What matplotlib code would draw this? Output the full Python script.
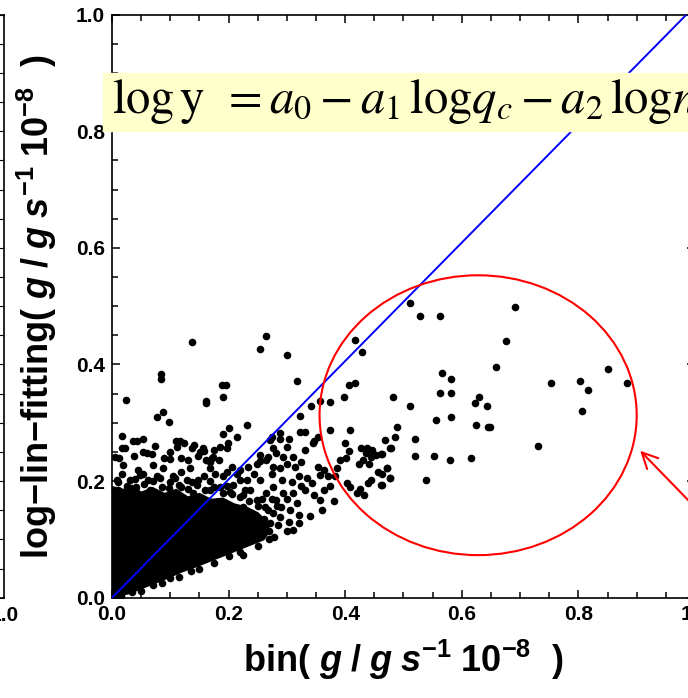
import numpy as np
import matplotlib
matplotlib.use("Agg")
import matplotlib.pyplot as plt
from matplotlib.patches import Ellipse, Rectangle

plt.rcParams['font.family'] = ['Liberation Sans', 'DejaVu Sans']
plt.rcParams['mathtext.fontset'] = 'custom'
plt.rcParams['mathtext.rm'] = 'Liberation Sans:bold'
plt.rcParams['mathtext.it'] = 'Liberation Sans:italic:bold'
plt.rcParams['mathtext.bf'] = 'Liberation Sans:bold'

# saturated cloud of overlapping points near the origin (outline)
core_x = [0, 0.02, 0.035, 0.05, 0.07, 0.09, 0.11, 0.13, 0.15, 0.17, 0.19, 0.21, 0.23,
          0.25, 0.265, 0.27, 0.26, 0.24, 0.21, 0.18, 0.15, 0.12, 0.09, 0.06, 0.03, 0]
core_y = [0.19, 0.185, 0.192, 0.18, 0.188, 0.178, 0.185, 0.172, 0.178, 0.168, 0.17,
          0.16, 0.155, 0.145, 0.13, 0.115, 0.1, 0.092, 0.08, 0.068, 0.056, 0.045, 0.032,
          0.02, 0.008, 0]

# points in the circled (large bin) region
circ_x = [0.512, 0.529, 0.563, 0.692, 0.676, 0.659, 0.566, 0.582, 0.563, 0.582, 0.482,
          0.512, 0.629, 0.622, 0.643, 0.556, 0.582, 0.625, 0.645, 0.649, 0.489, 0.485,
          0.469, 0.519, 0.476, 0.463, 0.519, 0.552, 0.579, 0.616, 0.472, 0.463, 0.476,
          0.463, 0.539, 0.730, 0.753, 0.803, 0.816, 0.806, 0.850, 0.883]
circ_y = [0.505, 0.484, 0.484, 0.498, 0.441, 0.395, 0.385, 0.375, 0.351, 0.351, 0.344,
          0.328, 0.344, 0.334, 0.328, 0.304, 0.310, 0.297, 0.293, 0.293, 0.293, 0.276,
          0.270, 0.273, 0.257, 0.246, 0.243, 0.243, 0.236, 0.240, 0.223, 0.213, 0.206,
          0.193, 0.202, 0.260, 0.368, 0.372, 0.357, 0.321, 0.392, 0.368]

# sparse points above the main cloud
upper_x = [0.265, 0.138, 0.254, 0.301, 0.0835, 0.0835, 0.318, 0.0235, 0.161, 0.161,
           0.188, 0.196, 0.191, 0.087, 0.078, 0.097, 0.231, 0.201, 0.191, 0.214, 0.417,
           0.429, 0.407, 0.417, 0.398, 0.374, 0.409, 0.322, 0.331, 0.354, 0.346, 0.274,
           0.288, 0.277, 0.341, 0.357, 0.374, 0.322, 0.0166, 0.0355, 0.0435, 0.054,
           0.0166, 0.0223, 0.074, 0.109, 0.117, 0.124, 0.199, 0.197, 0.138, 0.156, 0.158,
           0.175, 0.005, 0.0126, 0.037, 0.054, 0.0595, 0.068, 0.089, 0.0995, 0.118, 0.131,
           0.148, 0.162, 0.171, 0.183, 0.185, 0.174, 0.168, 0.151, 0.140, 0.111, 0.0995]
upper_y = [0.449, 0.439, 0.426, 0.416, 0.384, 0.375, 0.372, 0.339, 0.338, 0.334, 0.365,
           0.365, 0.345, 0.318, 0.310, 0.301, 0.297, 0.291, 0.280, 0.276, 0.442, 0.421,
           0.365, 0.369, 0.344, 0.288, 0.288, 0.284, 0.284, 0.276, 0.268, 0.276, 0.273,
           0.257, 0.329, 0.337, 0.336, 0.312, 0.277, 0.269, 0.269, 0.273, 0.257, 0.257,
           0.261, 0.268, 0.269, 0.266, 0.265, 0.256, 0.257, 0.256, 0.252, 0.253, 0.242,
           0.240, 0.243, 0.250, 0.248, 0.246, 0.239, 0.238, 0.239, 0.236, 0.243, 0.237,
           0.239, 0.236, 0.259, 0.242, 0.233, 0.250, 0.262, 0.259, 0.250]

# fringe of the dense cloud, left of x = 0.26
fringe_x = [0.0195, 0.045, 0.054, 0.071, 0.088, 0.105, 0.119, 0.134, 0.148, 0.168,
            0.177, 0.191, 0.214, 0.220, 0.008, 0.031, 0.062, 0.082, 0.128, 0.157, 0.185,
            0.208, 0.011, 0.042, 0.065, 0.097, 0.119, 0.139, 0.168, 0.202, 0.225, 0.022,
            0.051, 0.077, 0.111, 0.145, 0.205, 0.219, 0.197,
            0.01, 0.025, 0.04, 0.055, 0.07, 0.085, 0.10, 0.115, 0.13, 0.145, 0.16, 0.175,
            0.19, 0.205, 0.22, 0.235, 0.25, 0.018, 0.048, 0.078, 0.108, 0.138, 0.168,
            0.198, 0.228, 0.258]
fringe_y = [0.228, 0.219, 0.213, 0.228, 0.222, 0.208, 0.216, 0.222, 0.202, 0.222,
            0.213, 0.208, 0.213, 0.202, 0.202, 0.202, 0.202, 0.205, 0.202, 0.208, 0.190,
            0.193, 0.185, 0.190, 0.185, 0.188, 0.190, 0.179, 0.185, 0.182, 0.176, 0.176,
            0.176, 0.173, 0.173, 0.167, 0.225, 0.219, 0.216,
            0.198, 0.192, 0.203, 0.195, 0.2, 0.19, 0.198, 0.193, 0.186, 0.194, 0.184, 0.19,
            0.18, 0.178, 0.172, 0.166, 0.158, 0.212, 0.21, 0.208, 0.205, 0.198, 0.2,
            0.192, 0.185, 0.17]

# spreading band below the diagonal, x = 0.22 .. 0.48
band_x = [0.288, 0.271, 0.303, 0.344, 0.300, 0.281, 0.268, 0.331, 0.325, 0.311, 0.294,
          0.254, 0.400, 0.407, 0.4265, 0.437, 0.4455, 0.436, 0.444, 0.452, 0.431, 0.424,
          0.441, 0.461, 0.478, 0.471, 0.457, 0.476, 0.445, 0.439, 0.462, 0.426, 0.433,
          0.408, 0.391, 0.402, 0.386, 0.383, 0.403, 0.354, 0.363, 0.371, 0.357, 0.374,
          0.334, 0.343, 0.331, 0.346, 0.363, 0.357, 0.314, 0.320, 0.308, 0.325, 0.311,
          0.317, 0.306, 0.320, 0.303, 0.311, 0.288, 0.274, 0.291, 0.277, 0.294, 0.282,
          0.265, 0.254, 0.243, 0.231, 0.237, 0.248, 0.262, 0.277, 0.288, 0.271, 0.254,
          0.237, 0.225, 0.248, 0.237, 0.225, 0.278, 0.225, 0.254, 0.265, 0.248, 0.234,
          0.277, 0.300, 0.283, 0.268, 0.275, 0.26, 0.29, 0.3, 0.285, 0.27]
band_y = [0.283, 0.270, 0.273, 0.266, 0.259, 0.248, 0.242, 0.253, 0.233, 0.242, 0.242,
          0.234, 0.266, 0.252, 0.256, 0.256, 0.253, 0.248, 0.242, 0.245, 0.236, 0.230,
          0.230, 0.247, 0.256, 0.222, 0.216, 0.205, 0.202, 0.196, 0.193, 0.187, 0.176,
          0.190, 0.237, 0.239, 0.222, 0.208, 0.196, 0.225, 0.219, 0.208, 0.210, 0.191,
          0.205, 0.196, 0.185, 0.176, 0.185, 0.168, 0.225, 0.208, 0.199, 0.191, 0.179,
          0.162, 0.150, 0.142, 0.130, 0.116, 0.222, 0.213, 0.202, 0.190, 0.179, 0.167,
          0.179, 0.202, 0.213, 0.202, 0.185, 0.167, 0.156, 0.145, 0.139, 0.128, 0.133,
          0.145, 0.156, 0.119, 0.110, 0.105, 0.104, 0.073, 0.245, 0.236, 0.230, 0.225,
          0.225, 0.230, 0.158, 0.15, 0.17, 0.135, 0.155, 0.17, 0.125, 0.115]

# lower edge of the cloud
lower_x = [0.015, 0.035, 0.05, 0.07, 0.085, 0.1, 0.115, 0.135, 0.15, 0.175, 0.2, 0.22,
           0.25, 0.27, 0.3, 0.32, 0.34, 0.36, 0.38, 0.42]
lower_y = [0.003, 0.01, 0.012, 0.022, 0.026, 0.033, 0.035, 0.046, 0.05, 0.06, 0.072,
           0.078, 0.088, 0.1, 0.115, 0.128, 0.14, 0.15, 0.165, 0.18]

# reference line and highlighted region
line_x = [0.0, 1.0]
line_y = [0.0, 1.015]
circle_center = (0.628, 0.313)
circle_w, circle_h = 0.544, 0.48
arrow_head = (0.906, 0.252)
arrow_tail = (1.01, 0.145)

fig = plt.figure(figsize=(6.88, 6.98), dpi=100)

# neighbouring panel, only its right edge is visible
ax0 = fig.add_axes([-0.3, 0.1437, 0.3 + 4 / 688, 0.8353])
ax0.set_xlim(0, 1)
ax0.set_ylim(0, 1)
ax0.spines['left'].set_visible(False)
for s in ['top', 'right', 'bottom']:
    ax0.spines[s].set_linewidth(1.2)
ax0.set_xticks([1.0])
ax0.set_xticklabels(['1.0'])
ax0.set_yticks(np.arange(0, 1.01, 0.05))
ax0.tick_params(axis='y', left=False, right=True, labelleft=False, direction='in', length=4)
ax0.tick_params(axis='x', length=0, labelsize=15, pad=6)
for lab in ax0.get_xticklabels():
    lab.set_fontweight('bold')

ax = fig.add_axes([112 / 688, 0.1437, 583 / 688, 0.8353])
ax.fill(core_x, core_y, color='black', lw=1.5, ec='black', zorder=2)
for xs, ys in [(circ_x, circ_y), (upper_x, upper_y), (fringe_x, fringe_y),
               (band_x, band_y), (lower_x, lower_y)]:
    ax.scatter(xs, ys, s=30, color='black', linewidths=0, zorder=3)

ax.plot(line_x, line_y, color='#0000ff', lw=1.4, zorder=4)
ax.add_patch(Ellipse(circle_center, circle_w, circle_h, fill=False,
                     ec='#ff0000', lw=1.5, zorder=5))
ax.annotate('', xy=arrow_head, xytext=arrow_tail, annotation_clip=False,
            arrowprops=dict(arrowstyle='->', color='#ff0000', lw=1.5,
                            mutation_scale=28, shrinkA=0, shrinkB=0))

ax.set_xlim(0, 1)
ax.set_ylim(0, 1)
ax.set_xticks(np.arange(0, 1.01, 0.2))
ax.set_yticks(np.arange(0, 1.01, 0.2))
ax.set_xticks(np.arange(0, 1.01, 0.05), minor=True)
ax.set_yticks(np.arange(0, 1.01, 0.05), minor=True)
ax.set_xticklabels(['0.0', '0.2', '0.4', '0.6', '0.8', '1.0'])
ax.set_yticklabels(['0.0', '0.2', '0.4', '0.6', '0.8', '1.0'])
ax.tick_params(which='both', direction='in', top=True, right=True, width=1.1,
               labelsize=15, pad=5)
ax.tick_params(which='major', length=6)
ax.tick_params(which='minor', length=4)
for lab in ax.get_xticklabels() + ax.get_yticklabels():
    lab.set_fontweight('bold')
for s in ax.spines.values():
    s.set_linewidth(1.2)

ax.set_xlabel(r'bin( $g\;/\;g\;s^{-1}\;10^{-8}$  )', fontsize=26, fontweight='bold',
              labelpad=10)
ax.set_ylabel('log\u2212lin\u2212fitting' + r'( $g\;/\;g\;s^{-1}\;10^{-8}$  )',
              fontsize=26, fontweight='bold', labelpad=12)

# formula box
fig.patches.append(Rectangle((103 / 688, 1 - 131 / 698), 1.0, 58 / 698,
                             transform=fig.transFigure, color='#ffffcc', zorder=10))
fig.text(112 / 688, 1 - 113 / 698,
         r'$\mathrm{log\,y}\ \,=a_0-a_1\,\mathrm{log}q_c-a_2\,\mathrm{log}n_c$',
         fontsize=35, math_fontfamily='stix', va='baseline', ha='left', zorder=11)

fig.savefig('out.png', dpi=100)
